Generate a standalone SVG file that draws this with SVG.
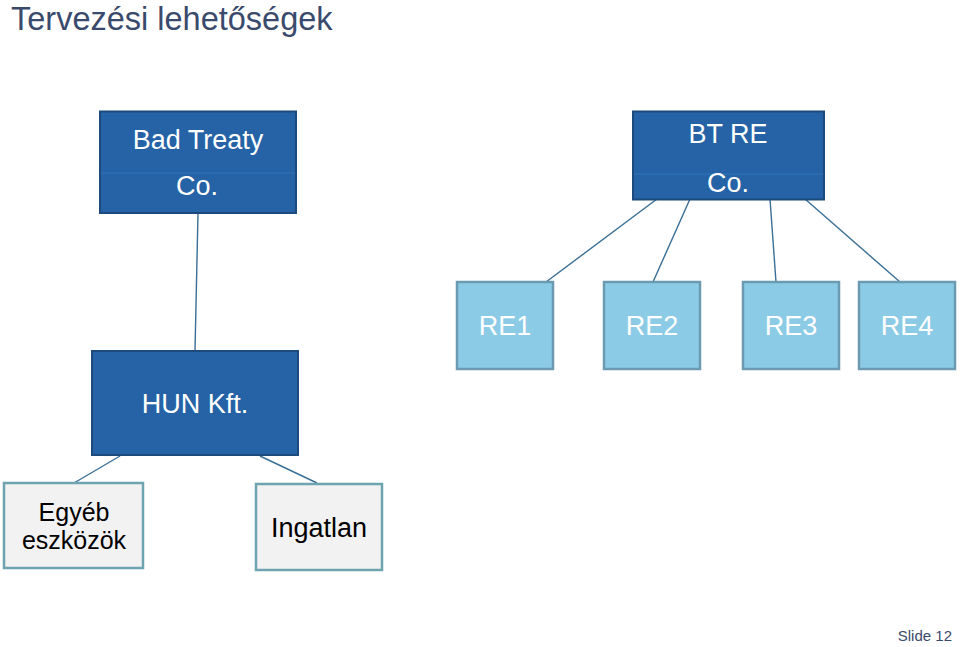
<svg xmlns="http://www.w3.org/2000/svg" width="960" height="647" viewBox="0 0 960 647">
<style>
text{font-family:"Liberation Sans",Arial,sans-serif}
.dark{fill:#2563a6;stroke:#1d4a7c;stroke-width:2}
.light{fill:#8ccbe6;stroke:#6b9bb0;stroke-width:2.5}
.grey{fill:#f2f2f2;stroke:#6ea3b0;stroke-width:2.5}
.div{stroke:#3274b8;stroke-width:1}
.wt{fill:#ffffff;font-size:27px;text-anchor:middle}
.bt{fill:#000000;font-size:25px;text-anchor:middle}
.big{font-size:27px}
.conn line{stroke:#3a6f96;stroke-width:1.4}
</style>
<rect width="960" height="647" fill="#ffffff"/>
<text x="11" y="29.5" font-size="32.5" fill="#3a4a6c">Tervezési lehetőségek</text>
<g class="conn" id="connectors">
<line x1="198" y1="213" x2="195" y2="351"/>
<line x1="657" y1="199" x2="546" y2="282"/>
<line x1="690" y1="199" x2="653" y2="282"/>
<line x1="770" y1="199" x2="776" y2="282"/>
<line x1="805" y1="199" x2="900" y2="282"/>
<line x1="120" y1="456" x2="74" y2="483"/>
<line x1="260" y1="456" x2="317" y2="483"/>
</g>
<g id="badtreaty">
<rect class="dark" x="100" y="111.5" width="196" height="101.5"/>
<line class="div" x1="101" y1="173" x2="295" y2="173"/>
<text class="wt" x="198" y="149">Bad Treaty</text>
<text class="wt" x="197" y="195">Co.</text>
</g>
<g id="btre">
<rect class="dark" x="633" y="111.5" width="191" height="88"/>
<line class="div" x1="634" y1="174" x2="823" y2="174"/>
<text class="wt" x="728" y="143">BT RE</text>
<text class="wt" x="728" y="192">Co.</text>
</g>
<g id="re1">
<rect class="light" x="457" y="282" width="96" height="87"/>
<text class="wt" x="505" y="335">RE1</text>
</g>
<g id="re2">
<rect class="light" x="604" y="282" width="96" height="87"/>
<text class="wt" x="652" y="335">RE2</text>
</g>
<g id="re3">
<rect class="light" x="743" y="282" width="96" height="87"/>
<text class="wt" x="791" y="335">RE3</text>
</g>
<g id="re4">
<rect class="light" x="859" y="282" width="96" height="87"/>
<text class="wt" x="907" y="335">RE4</text>
</g>
<g id="hun">
<rect class="dark" x="92" y="351" width="206" height="104"/>
<text class="wt" x="195" y="413">HUN Kft.</text>
</g>
<g id="egyeb">
<rect class="grey" x="4" y="483" width="139" height="85"/>
<text class="bt" x="74" y="521">Egyéb</text>
<text class="bt" x="74" y="549">eszközök</text>
</g>
<g id="ingatlan">
<rect class="grey" x="256" y="484" width="126" height="86"/>
<text class="bt big" x="319" y="537">Ingatlan</text>
</g>
<text x="952" y="641" font-size="15" fill="#3a4a6c" text-anchor="end">Slide 12</text>
</svg>
